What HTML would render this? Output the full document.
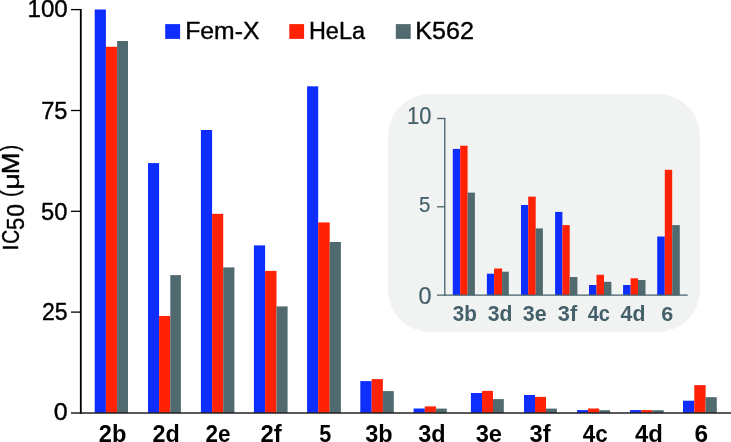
<!DOCTYPE html>
<html><head><meta charset="utf-8"><style>
html,body{margin:0;padding:0;background:#fff;overflow:hidden;}
svg{display:block;will-change:transform;}
</style></head><body>
<svg width="731" height="442" viewBox="0 0 731 442">
<rect x="0" y="0" width="731" height="442" fill="#ffffff"/>
<rect x="388" y="94" width="312" height="238" rx="42" ry="42" fill="#f1f2f2"/>
<rect x="165.2" y="24.1" width="14.9" height="14.8" fill="#0e2efd"/>
<rect x="289.3" y="24.1" width="14.8" height="14.8" fill="#ff2205"/>
<rect x="395.8" y="24.1" width="14.9" height="14.8" fill="#506a6f"/>
<g transform="matrix(1.00936 0 0 1.01171 -3.5287 -0.2622)"><text x="187" y="39" text-anchor="start" style="font-family:'Liberation Sans',sans-serif;font-size:24.5px;" fill="#000" stroke="#000" stroke-width="0.4">Fem-X</text></g>
<g transform="matrix(0.95626 0 0 1.01295 12.5065 -0.2148)"><text x="310" y="39" text-anchor="start" style="font-family:'Liberation Sans',sans-serif;font-size:24.5px;" fill="#000" stroke="#000" stroke-width="0.4">HeLa</text></g>
<g transform="matrix(1.02856 0 0 1.01171 -12.6471 -0.2622)"><text x="416" y="39" text-anchor="start" style="font-family:'Liberation Sans',sans-serif;font-size:24.5px;" fill="#000" stroke="#000" stroke-width="0.4">K562</text></g>
<rect x="94.70" y="9.50" width="11.20" height="403.50" fill="#0e2efd"/>
<rect x="105.90" y="46.80" width="11.20" height="366.20" fill="#ff2205"/>
<rect x="117.10" y="41.00" width="10.90" height="372.00" fill="#506a6f"/>
<rect x="148.00" y="163.10" width="11.10" height="249.90" fill="#0e2efd"/>
<rect x="159.10" y="316.00" width="11.20" height="97.00" fill="#ff2205"/>
<rect x="170.30" y="275.10" width="10.60" height="137.90" fill="#506a6f"/>
<rect x="200.90" y="130.00" width="11.20" height="283.00" fill="#0e2efd"/>
<rect x="212.10" y="213.80" width="11.10" height="199.20" fill="#ff2205"/>
<rect x="223.20" y="267.40" width="11.20" height="145.60" fill="#506a6f"/>
<rect x="253.90" y="245.40" width="11.20" height="167.60" fill="#0e2efd"/>
<rect x="265.10" y="270.90" width="11.40" height="142.10" fill="#ff2205"/>
<rect x="276.50" y="306.40" width="11.10" height="106.60" fill="#506a6f"/>
<rect x="307.10" y="86.30" width="11.10" height="326.70" fill="#0e2efd"/>
<rect x="318.20" y="222.40" width="11.50" height="190.60" fill="#ff2205"/>
<rect x="329.70" y="242.00" width="11.20" height="171.00" fill="#506a6f"/>
<rect x="360.30" y="381.10" width="11.40" height="31.90" fill="#0e2efd"/>
<rect x="371.70" y="379.10" width="11.20" height="33.90" fill="#ff2205"/>
<rect x="382.90" y="391.10" width="10.90" height="21.90" fill="#506a6f"/>
<rect x="413.60" y="408.50" width="11.20" height="4.50" fill="#0e2efd"/>
<rect x="424.80" y="406.40" width="11.10" height="6.60" fill="#ff2205"/>
<rect x="435.90" y="408.60" width="10.90" height="4.40" fill="#506a6f"/>
<rect x="470.90" y="393.00" width="11.10" height="20.00" fill="#0e2efd"/>
<rect x="482.00" y="390.90" width="11.00" height="22.10" fill="#ff2205"/>
<rect x="493.00" y="399.10" width="10.80" height="13.90" fill="#506a6f"/>
<rect x="524.00" y="395.00" width="11.00" height="18.00" fill="#0e2efd"/>
<rect x="535.00" y="396.90" width="11.00" height="16.10" fill="#ff2205"/>
<rect x="546.00" y="408.60" width="10.90" height="4.40" fill="#506a6f"/>
<rect x="577.00" y="410.10" width="11.00" height="2.90" fill="#0e2efd"/>
<rect x="588.00" y="408.50" width="11.20" height="4.50" fill="#ff2205"/>
<rect x="599.20" y="410.20" width="10.90" height="2.80" fill="#506a6f"/>
<rect x="630.00" y="410.10" width="11.20" height="2.90" fill="#0e2efd"/>
<rect x="641.20" y="410.10" width="11.20" height="2.90" fill="#ff2205"/>
<rect x="652.40" y="410.20" width="11.30" height="2.80" fill="#506a6f"/>
<rect x="683.00" y="400.70" width="11.30" height="12.30" fill="#0e2efd"/>
<rect x="694.30" y="385.10" width="11.30" height="27.90" fill="#ff2205"/>
<rect x="705.60" y="397.20" width="11.20" height="15.80" fill="#506a6f"/>
<g stroke="#000" fill="none">
<line x1="80.8" y1="8.9" x2="80.8" y2="413.9" stroke-width="1.8"/>
<line x1="71" y1="9.6" x2="81" y2="9.6" stroke-width="1.3"/>
<line x1="71" y1="110.5" x2="81" y2="110.5" stroke-width="1.3"/>
<line x1="71" y1="211.3" x2="81" y2="211.3" stroke-width="1.3"/>
<line x1="71" y1="312.1" x2="81" y2="312.1" stroke-width="1.3"/>
<line x1="71" y1="413.0" x2="731" y2="413.0" stroke-width="1.7" stroke="#222"/>
</g>
<g transform="matrix(0.98345 0 0 0.95141 1.8286 0.4564)"><text x="67" y="17.5" text-anchor="end" style="font-family:'Liberation Sans',sans-serif;font-size:24.5px;" fill="#000" stroke="#000" stroke-width="0.4">100</text></g>
<g transform="matrix(0.96276 0 0 0.98386 2.9845 1.5283)"><text x="67" y="119" text-anchor="end" style="font-family:'Liberation Sans',sans-serif;font-size:24.5px;" fill="#000" stroke="#000" stroke-width="0.4">75</text></g>
<g transform="matrix(0.96768 0 0 0.95029 2.5223 11.6047)"><text x="67" y="219" text-anchor="end" style="font-family:'Liberation Sans',sans-serif;font-size:24.5px;" fill="#000" stroke="#000" stroke-width="0.4">50</text></g>
<g transform="matrix(0.94043 0 0 0.95989 4.5534 12.3935)"><text x="67" y="320" text-anchor="end" style="font-family:'Liberation Sans',sans-serif;font-size:24.5px;" fill="#000" stroke="#000" stroke-width="0.4">25</text></g>
<g transform="matrix(1.02120 0 0 1.00325 -0.6686 -0.9494)"><text x="67" y="420" text-anchor="end" style="font-family:'Liberation Sans',sans-serif;font-size:24.5px;" fill="#000" stroke="#000" stroke-width="0.4">0</text></g>
<g transform="matrix(0.98784 0 0 0.93131 -0.2327 18.6754)"><text x="0" y="0" text-anchor="start" style="font-family:'Liberation Sans',sans-serif;font-size:23px;" fill="#000" stroke="#000" stroke-width="0.4" transform="translate(18.4,249) rotate(-90)">I</text></g>
<g transform="matrix(1.05183 0 0 0.83630 -0.1549 40.8352)"><text x="6.4" y="0" text-anchor="start" style="font-family:'Liberation Sans',sans-serif;font-size:23px;" fill="#000" stroke="#000" stroke-width="0.4" transform="translate(18.4,249) rotate(-90)">C</text></g>
<g transform="matrix(1.00159 0 0 0.96148 0.1444 12.6290)"><text x="23" y="5.6" text-anchor="start" style="font-family:'Liberation Sans',sans-serif;font-size:23px;" fill="#000" stroke="#000" stroke-width="0.4" transform="translate(18.4,249) rotate(-90)">5</text></g>
<g transform="matrix(1.01686 0 0 0.99097 -0.3194 5.4567)"><text x="35.8" y="5.6" text-anchor="start" style="font-family:'Liberation Sans',sans-serif;font-size:23px;" fill="#000" stroke="#000" stroke-width="0.4" transform="translate(18.4,249) rotate(-90)">0</text></g>
<g transform="matrix(1.00075 0 0 0.87383 -0.6394 27.4921)"><text x="55" y="0" text-anchor="start" style="font-family:'Liberation Sans',sans-serif;font-size:23px;" fill="#000" stroke="#000" stroke-width="0.4" transform="translate(18.4,249) rotate(-90)">(</text></g>
<g transform="matrix(0.96806 0 0 1.26196 1.5338 -45.5905)"><text x="62.6" y="0" text-anchor="start" style="font-family:'Liberation Sans',sans-serif;font-size:23px;" fill="#000" stroke="#000" stroke-width="0.4" transform="translate(18.4,249) rotate(-90)">μ</text></g>
<g transform="matrix(1.01386 0 0 1.13142 0.1337 -21.6482)"><text x="75.9" y="0" text-anchor="start" style="font-family:'Liberation Sans',sans-serif;font-size:23px;" fill="#000" stroke="#000" stroke-width="0.4" transform="translate(18.4,249) rotate(-90)">M</text></g>
<g transform="matrix(1.02471 0 0 0.83431 -1.2227 22.8633)"><text x="95" y="0" text-anchor="start" style="font-family:'Liberation Sans',sans-serif;font-size:23px;" fill="#000" stroke="#000" stroke-width="0.4" transform="translate(18.4,249) rotate(-90)">)</text></g>
<g transform="matrix(0.98469 0 0 1.01227 2.3529 -4.6520)"><text x="112" y="441" text-anchor="middle" style="font-family:'Liberation Sans',sans-serif;font-size:24px;font-weight:bold;" fill="#000">2b</text></g>
<g transform="matrix(0.97467 0 0 1.00000 5.2904 0.8000)"><text x="165" y="441" text-anchor="middle" style="font-family:'Liberation Sans',sans-serif;font-size:24px;font-weight:bold;" fill="#000">2d</text></g>
<g transform="matrix(0.93754 0 0 1.01537 13.6304 -5.5713)"><text x="218" y="441" text-anchor="middle" style="font-family:'Liberation Sans',sans-serif;font-size:24px;font-weight:bold;" fill="#000">2e</text></g>
<g transform="matrix(0.99243 0 0 1.01678 2.1898 -6.8165)"><text x="271" y="441" text-anchor="middle" style="font-family:'Liberation Sans',sans-serif;font-size:24px;font-weight:bold;" fill="#000">2f</text></g>
<g transform="matrix(0.90092 0 0 0.98126 32.3837 8.9060)"><text x="325" y="441" text-anchor="middle" style="font-family:'Liberation Sans',sans-serif;font-size:24px;font-weight:bold;" fill="#000">5</text></g>
<g transform="matrix(0.97961 0 0 1.00000 8.6616 0.6000)"><text x="378" y="441" text-anchor="middle" style="font-family:'Liberation Sans',sans-serif;font-size:24px;font-weight:bold;" fill="#000">3b</text></g>
<g transform="matrix(0.97755 0 0 1.00000 10.5449 0.8000)"><text x="431" y="441" text-anchor="middle" style="font-family:'Liberation Sans',sans-serif;font-size:24px;font-weight:bold;" fill="#000">3d</text></g>
<g transform="matrix(0.98743 0 0 1.01176 6.9573 -4.3882)"><text x="488" y="441" text-anchor="middle" style="font-family:'Liberation Sans',sans-serif;font-size:24px;font-weight:bold;" fill="#000">3e</text></g>
<g transform="matrix(0.98819 0 0 1.00607 6.4351 -2.0755)"><text x="540" y="441" text-anchor="middle" style="font-family:'Liberation Sans',sans-serif;font-size:24px;font-weight:bold;" fill="#000">3f</text></g>
<g transform="matrix(0.93522 0 0 1.02842 38.8719 -11.9963)"><text x="595" y="441" text-anchor="middle" style="font-family:'Liberation Sans',sans-serif;font-size:24px;font-weight:bold;" fill="#000">4c</text></g>
<g transform="matrix(0.99640 0 0 1.00000 3.2189 0.6000)"><text x="648" y="441" text-anchor="middle" style="font-family:'Liberation Sans',sans-serif;font-size:24px;font-weight:bold;" fill="#000">4d</text></g>
<g transform="matrix(1.01935 0 0 1.02876 -13.2637 -12.1458)"><text x="701" y="441" text-anchor="middle" style="font-family:'Liberation Sans',sans-serif;font-size:24px;font-weight:bold;" fill="#000">6</text></g>
<rect x="452.80" y="148.90" width="7.40" height="146.30" fill="#0e2efd"/>
<rect x="460.20" y="145.70" width="7.40" height="149.50" fill="#ff2205"/>
<rect x="467.60" y="192.60" width="7.30" height="102.60" fill="#506a6f"/>
<rect x="486.90" y="273.70" width="7.20" height="21.50" fill="#0e2efd"/>
<rect x="494.10" y="268.50" width="8.00" height="26.70" fill="#ff2205"/>
<rect x="502.10" y="271.70" width="6.70" height="23.50" fill="#506a6f"/>
<rect x="521.00" y="205.00" width="7.20" height="90.20" fill="#0e2efd"/>
<rect x="528.20" y="196.60" width="7.50" height="98.60" fill="#ff2205"/>
<rect x="535.70" y="228.40" width="7.20" height="66.80" fill="#506a6f"/>
<rect x="555.10" y="211.90" width="7.30" height="83.30" fill="#0e2efd"/>
<rect x="562.40" y="225.10" width="7.30" height="70.10" fill="#ff2205"/>
<rect x="569.70" y="277.00" width="7.70" height="18.20" fill="#506a6f"/>
<rect x="589.00" y="285.00" width="7.50" height="10.20" fill="#0e2efd"/>
<rect x="596.50" y="274.80" width="7.50" height="20.40" fill="#ff2205"/>
<rect x="604.00" y="281.80" width="7.40" height="13.40" fill="#506a6f"/>
<rect x="623.10" y="285.00" width="7.50" height="10.20" fill="#0e2efd"/>
<rect x="630.60" y="278.30" width="7.40" height="16.90" fill="#ff2205"/>
<rect x="638.00" y="280.00" width="7.50" height="15.20" fill="#506a6f"/>
<rect x="657.20" y="236.50" width="7.60" height="58.70" fill="#0e2efd"/>
<rect x="664.80" y="169.80" width="7.40" height="125.40" fill="#ff2205"/>
<rect x="672.20" y="225.10" width="7.60" height="70.10" fill="#506a6f"/>
<g stroke="#44606a" fill="none" stroke-width="1.3">
<line x1="444.8" y1="117.9" x2="444.8" y2="295.8"/>
<line x1="437" y1="118.5" x2="445" y2="118.5"/>
<line x1="437" y1="206.8" x2="445" y2="206.8"/>
<line x1="437" y1="295.2" x2="687.7" y2="295.2"/>
</g>
<g transform="matrix(0.93210 0 0 1.01127 29.6516 -1.2934)"><text x="431" y="124" text-anchor="end" style="font-family:'Liberation Sans',sans-serif;font-size:23.5px;" fill="#44606a" stroke="#44606a" stroke-width="0.2">10</text></g>
<g transform="matrix(0.87090 0 0 0.93529 55.8441 13.3824)"><text x="430" y="212.5" text-anchor="end" style="font-family:'Liberation Sans',sans-serif;font-size:23.5px;" fill="#44606a" stroke="#44606a" stroke-width="0.2">5</text></g>
<g transform="matrix(0.99696 0 0 1.02932 1.8725 -8.1781)"><text x="431" y="303" text-anchor="end" style="font-family:'Liberation Sans',sans-serif;font-size:23.5px;" fill="#44606a" stroke="#44606a" stroke-width="0.2">0</text></g>
<g transform="matrix(0.97962 0 0 1.08810 10.2899 -28.1194)"><text x="464" y="321" text-anchor="middle" style="font-family:'Liberation Sans',sans-serif;font-size:21px;font-weight:bold;" fill="#44606a">3b</text></g>
<g transform="matrix(1.00796 0 0 1.04812 -3.8339 -15.5874)"><text x="500" y="321" text-anchor="middle" style="font-family:'Liberation Sans',sans-serif;font-size:21px;font-weight:bold;" fill="#44606a">3d</text></g>
<g transform="matrix(1.02029 0 0 1.06190 -11.1516 -19.4534)"><text x="535" y="321" text-anchor="middle" style="font-family:'Liberation Sans',sans-serif;font-size:21px;font-weight:bold;" fill="#44606a">3e</text></g>
<g transform="matrix(1.03558 0 0 1.03759 -20.6888 -11.6898)"><text x="568" y="321" text-anchor="middle" style="font-family:'Liberation Sans',sans-serif;font-size:21px;font-weight:bold;" fill="#44606a">3f</text></g>
<g transform="matrix(0.95013 0 0 1.06003 30.6717 -18.8500)"><text x="598" y="321" text-anchor="middle" style="font-family:'Liberation Sans',sans-serif;font-size:21px;font-weight:bold;" fill="#44606a">4c</text></g>
<g transform="matrix(1.01453 0 0 1.03759 -8.1374 -11.6898)"><text x="632" y="321" text-anchor="middle" style="font-family:'Liberation Sans',sans-serif;font-size:21px;font-weight:bold;" fill="#44606a">4d</text></g>
<g transform="matrix(1.02603 0 0 1.00490 -17.1865 -1.6537)"><text x="667" y="321" text-anchor="middle" style="font-family:'Liberation Sans',sans-serif;font-size:21px;font-weight:bold;" fill="#44606a">6</text></g>
</svg>
</body></html>
